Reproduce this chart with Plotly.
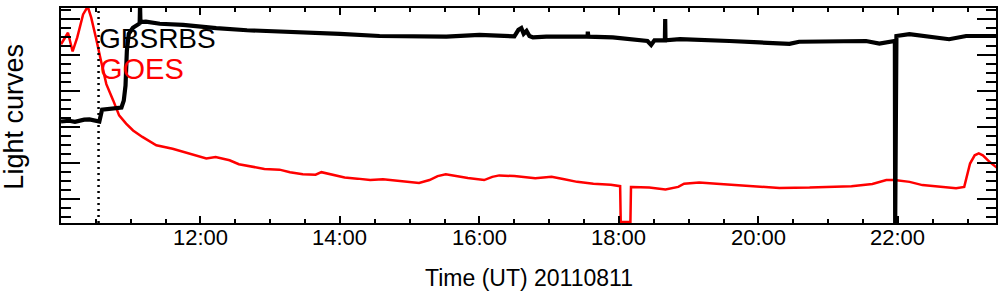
import plotly.graph_objects as go

DAY = "2011-08-11 "

# GOES light curve (arbitrary units)
goes_time = ["10:00:00", "10:06:00", "10:10:00", "10:14:00", "10:19:00", "10:21:40", "10:23:00",
             "10:26:00", "10:28:00", "10:30:00", "10:35:00", "10:39:00", "10:45:00", "10:50:00",
             "10:56:00", "11:02:00", "11:10:00", "11:22:00", "11:36:00", "11:50:00", "12:05:00",
             "12:13:00", "12:25:00", "12:33:00", "12:44:00", "12:55:00", "13:08:00", "13:17:00",
             "13:28:00", "13:39:00", "13:44:00", "13:53:00", "14:04:00", "14:15:00", "14:26:00",
             "14:37:00", "14:51:00", "15:08:00", "15:17:00", "15:24:00", "15:31:00", "15:39:00",
             "15:50:00", "16:04:00", "16:11:00", "16:17:00", "16:30:00", "16:48:00", "17:02:00",
             "17:13:00", "17:24:00", "17:38:00", "17:53:00", "18:01:00", "18:01:30", "18:09:50",
             "18:10:20", "18:11:00", "18:26:00", "18:40:00", "18:51:00", "18:56:00", "19:09:00",
             "19:24:00", "19:38:00", "19:56:00", "20:18:00", "20:44:00", "21:02:00", "21:20:00",
             "21:38:00", "21:50:00", "21:57:00", "22:10:00", "22:21:00", "22:30:00", "22:41:00",
             "22:50:00", "22:57:00", "22:59:00", "23:02:00", "23:06:00", "23:09:30", "23:13:00",
             "23:19:00", "23:26:00"]
goes_flux = [43.1, 46.3, 41.1, 45.0, 51.4, 52.8, 53.6,
             50.5, 47.3, 45.0, 37.6, 32.0, 27.4, 23.3,
             21.0, 19.1, 17.3, 15.0, 14.0, 12.7, 11.3,
             11.7, 10.8, 9.7, 9.1, 8.4, 8.2, 7.5,
             6.9, 6.8, 7.5, 6.9, 6.0, 5.7, 5.3,
             5.5, 5.1, 4.5, 5.3, 6.4, 6.9, 6.4,
             5.9, 5.3, 6.2, 6.6, 6.4, 5.8, 6.2,
             5.5, 4.8, 4.3, 4.0, 3.6, -6.4, -6.4,
             3.4, 3.4, 3.2, 2.7, 3.4, 4.3, 4.6,
             4.3, 4.0, 3.6, 3.1, 3.2, 3.4, 3.6,
             4.2, 5.3, 5.3, 4.8, 3.9, 3.6, 3.4,
             3.0, 3.4, 5.7, 9.9, 12.2, 12.7, 12.2,
             10.3, 8.5]

# GBSRBS light curve (arbitrary units)
gbs_time = ["10:00:00", "10:07:00", "10:12:00", "10:16:00", "10:20:00", "10:24:30", "10:29:00",
            "10:33:00", "10:35:20", "10:41:40", "10:47:00", "10:52:00", "10:54:00", "10:55:30",
            "10:56:40", "10:58:20", "11:01:50", "11:06:00", "11:07:40", "11:08:00", "11:08:20",
            "11:13:00", "11:25:00", "11:45:00", "11:59:00", "12:13:30", "12:40:00", "13:25:00",
            "14:00:00", "14:34:00", "15:02:30", "15:31:30", "16:00:00", "16:30:00", "16:33:30",
            "16:36:00", "16:38:00", "16:40:30", "16:43:00", "16:46:00", "16:57:30", "17:26:00",
            "17:33:00", "17:33:10", "17:33:40", "17:54:40", "18:17:30", "18:24:30", "18:27:40",
            "18:30:30", "18:39:30", "18:39:45", "18:40:00", "18:52:30", "19:09:00", "19:35:00",
            "20:01:00", "20:26:40", "20:35:00", "21:04:00", "21:32:30", "21:44:00", "21:57:20",
            "21:57:36", "21:57:52", "21:58:40", "22:09:50", "22:30:00", "22:44:00", "22:58:40",
            "23:25:30"]
gbs_flux = [21.6, 21.8, 21.5, 21.9, 22.1, 22.2, 21.9,
            21.6, 24.9, 25.2, 25.3, 25.5, 27.4, 31.6,
            41.3, 46.0, 47.7, 48.7, 48.9, 54.0, 49.3,
            49.4, 48.8, 48.5, 48.2, 47.6, 47.0, 46.5,
            46.0, 45.4, 45.4, 45.2, 45.7, 45.3, 47.1,
            47.6, 46.0, 46.8, 45.4, 45.0, 45.2, 45.2,
            45.2, 46.6, 45.2, 45.0, 44.2, 44.0, 42.9,
            44.2, 44.2, 50.1, 44.2, 44.5, 44.2, 44.0,
            43.6, 43.2, 43.8, 43.9, 44.0, 43.3, 44.0,
            -7.0, 45.4, 45.4, 45.9, 45.0, 44.5, 45.4,
            45.4]

marker_time = "10:32:18"
x_start, x_end = "10:00:00", "23:24:20"
y_min, y_max = -6.65, 53.19
tick_times = ["12:00", "14:00", "16:00", "18:00", "20:00", "22:00"]

fig = go.Figure()
fig.add_trace(go.Scatter(x=[DAY + t for t in goes_time], y=goes_flux, mode="lines",
                         line=dict(color="#ff0000", width=2.5), name="GOES"))
fig.add_trace(go.Scatter(x=[DAY + t for t in gbs_time], y=gbs_flux, mode="lines",
                         line=dict(color="#000000", width=4.2), name="GBSRBS"))
fig.add_trace(go.Scatter(x=[DAY + marker_time] * 2, y=[y_min, y_max], mode="lines",
                         line=dict(color="#000000", width=2.5, dash="2px,4px"), name="marker"))

font = "Liberation Sans, Arial, Helvetica, sans-serif"

annotations = [
    dict(text="GBSRBS", xref="paper", yref="paper", x=0.039, y=0.859,
         xanchor="left", yanchor="middle", showarrow=False,
         font=dict(size=28, color="#000000", family=font)),
    dict(text="GOES", xref="paper", yref="paper", x=0.040, y=0.716,
         xanchor="left", yanchor="middle", showarrow=False,
         font=dict(size=29, color="#ff0000", family=font)),
    dict(text="Time (UT) 20110811", xref="paper", yref="paper", x=0.5, y=-0.258,
         xanchor="center", yanchor="middle", showarrow=False,
         font=dict(size=23, color="black", family=font)),
    dict(text="Light curves", xref="paper", yref="paper", x=-0.0502, y=0.495,
         xanchor="center", yanchor="middle", showarrow=False, textangle=-90,
         font=dict(size=27, color="black", family=font)),
]
# tick labels placed on the time axis
for t in tick_times:
    annotations.append(dict(text=t, xref="x", yref="paper", x=DAY + t, y=-0.066,
                            xanchor="center", yanchor="middle", showarrow=False,
                            font=dict(size=22, color="black", family=font)))

fig.update_layout(
    width=1004, height=296,
    margin=dict(l=61, r=6, t=7, b=73),
    paper_bgcolor="white", plot_bgcolor="white",
    showlegend=False, hovermode=False,
    font=dict(family=font, color="black"),
    xaxis=dict(
        type="date", range=[DAY + x_start, DAY + x_end],
        tickmode="array", tickvals=[DAY + t for t in tick_times], showticklabels=False,
        ticks="inside", ticklen=7, tickwidth=1.5, tickcolor="black",
        minor=dict(dtick=1800000, tick0=DAY + "10:00:00", ticks="inside", ticklen=4,
                   tickwidth=1.5, tickcolor="black", showgrid=False),
        showline=True, linecolor="black", linewidth=1.5, mirror="ticks",
        showgrid=False, zeroline=False,
    ),
    yaxis=dict(
        range=[y_min, y_max],
        tickmode="array", tickvals=[0, 10, 20, 30, 40, 50], showticklabels=False,
        ticks="inside", ticklen=19, tickwidth=2, tickcolor="black",
        minor=dict(dtick=2.5, tick0=0, ticks="inside", ticklen=10, tickwidth=2,
                   tickcolor="black", showgrid=False),
        showline=True, linecolor="black", linewidth=1.5, mirror="ticks",
        showgrid=False, zeroline=False,
    ),
    annotations=annotations,
)

fig.write_html("out.html")
